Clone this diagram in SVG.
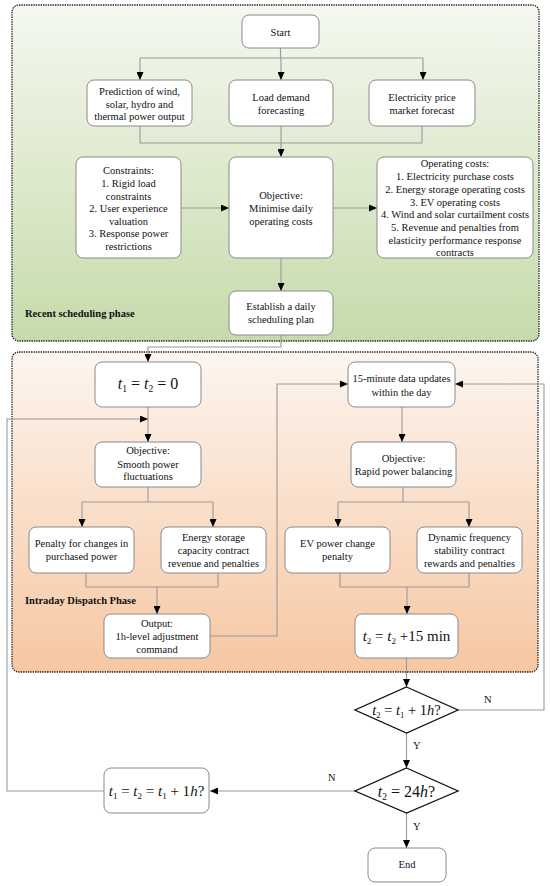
<svg xmlns="http://www.w3.org/2000/svg" width="550" height="886" viewBox="0 0 550 886">
<defs>
<linearGradient id="gGreen" x1="0" y1="0" x2="0" y2="1">
<stop offset="0" stop-color="#f5f8f0"/>
<stop offset="1" stop-color="#c6dbab"/>
</linearGradient>
<linearGradient id="gOrange" x1="0" y1="0" x2="0" y2="1">
<stop offset="0" stop-color="#fdf5ef"/>
<stop offset="1" stop-color="#f6c7a2"/>
</linearGradient>
<marker id="arr" markerUnits="userSpaceOnUse" markerWidth="8" markerHeight="7" refX="8" refY="3.5" orient="auto">
<path d="M0,0 L8,3.5 L0,7 z" fill="#000"/>
</marker>
<style>
.region{stroke:#222;stroke-width:1.3;stroke-dasharray:1.4 1;}
.box{fill:#fff;stroke:#8a8a8a;stroke-width:1;}
.dia{fill:#fff;stroke:#111;stroke-width:1.3;}
.c{fill:none;stroke:#9a9a9a;stroke-width:1.1;}
.ca{fill:none;stroke:#9a9a9a;stroke-width:1.1;marker-end:url(#arr);}
text{font-family:"Liberation Serif","Times New Roman",serif;fill:#111;}
.t{font-size:10.5px;text-anchor:middle;}
.lbl{font-size:10.5px;font-weight:bold;}
.m{text-anchor:middle;}
.yn{font-size:10.5px;}
</style>
</defs>

<g id="phase-recent">
<rect class="region" x="12" y="5" width="527" height="336" rx="7" fill="url(#gGreen)"/>
<text class="lbl" x="25" y="317">Recent scheduling phase</text>
</g>
<g id="phase-intraday">
<rect class="region" x="12" y="352" width="526" height="320" rx="7" fill="url(#gOrange)"/>
<text class="lbl" x="25" y="604">Intraday Dispatch Phase</text>
</g>

<g id="connectors">
<path class="c" d="M280.5,48 V58 M140,58 H423"/>
<path class="ca" d="M140,58 V80"/>
<path class="ca" d="M281,58 V80"/>
<path class="ca" d="M423,58 V80"/>
<path class="c" d="M140,126 V143 H422 M422,126 V143"/>
<path class="ca" d="M281,126 V157"/>
<path class="ca" d="M181,208 H229"/>
<path class="ca" d="M333,208 H377"/>
<path class="ca" d="M281,258 V291"/>
<path class="ca" d="M281,335 V347 H148 V362"/>
<path class="ca" d="M148,407 V442"/>
<path class="ca" d="M104,791 H7 V419 H148"/>
<path class="c" d="M148,487 V502 M82,502 H213"/>
<path class="ca" d="M82,502 V527"/>
<path class="ca" d="M213,502 V527"/>
<path class="c" d="M86,573 V587 H218 V573"/>
<path class="ca" d="M157,587 V614"/>
<path class="ca" d="M210,636 H277 V384 H348"/>
<path class="ca" d="M402,407 V442"/>
<path class="c" d="M403,487 V502 M338,502 H469"/>
<path class="ca" d="M338,502 V527"/>
<path class="ca" d="M469,502 V527"/>
<path class="c" d="M340,573 V587 H469 V573"/>
<path class="ca" d="M407,587 V614"/>
<path class="ca" d="M406.5,658 V687"/>
<path class="ca" d="M458,710 H544 V384 H455"/>
<path class="ca" d="M406.5,733 V768"/>
<path class="ca" d="M355,791 H210"/>
<path class="ca" d="M406.5,813 V848"/>
<text class="yn" x="484" y="703">N</text>
<text class="yn" x="413" y="749">Y</text>
<text class="yn" x="328" y="781">N</text>
<text class="yn" x="413" y="830">Y</text>
</g>

<g id="start">
<rect class="box" x="242" y="15" width="77" height="33" rx="7"/>
<text class="t" x="280.5" y="35.5">Start</text>
</g>
<g id="pred">
<rect class="box" x="87" y="80" width="105" height="46" rx="7"/>
<text class="t" x="139.5" y="95">Prediction of wind,</text>
<text class="t" x="139.5" y="107.5">solar, hydro and</text>
<text class="t" x="139.5" y="120">thermal power output</text>
</g>
<g id="load">
<rect class="box" x="229" y="80" width="104" height="46" rx="7"/>
<text class="t" x="281" y="101">Load demand</text>
<text class="t" x="281" y="114">forecasting</text>
</g>
<g id="price">
<rect class="box" x="369" y="80" width="106" height="46" rx="7"/>
<text class="t" x="422" y="101">Electricity price</text>
<text class="t" x="422" y="114">market forecast</text>
</g>
<g id="constraints">
<rect class="box" x="76" y="157" width="105" height="101" rx="7"/>
<text class="t" x="128.5" y="174">Constraints:</text>
<text class="t" x="128.5" y="187">1. Rigid load</text>
<text class="t" x="128.5" y="199.5">constraints</text>
<text class="t" x="128.5" y="212">2. User experience</text>
<text class="t" x="128.5" y="224.5">valuation</text>
<text class="t" x="128.5" y="237">3. Response power</text>
<text class="t" x="128.5" y="250">restrictions</text>
</g>
<g id="objective1">
<rect class="box" x="229" y="157" width="104" height="101" rx="7"/>
<text class="t" x="281" y="199">Objective:</text>
<text class="t" x="281" y="212">Minimise daily</text>
<text class="t" x="281" y="224.5">operating costs</text>
</g>
<g id="opcosts">
<rect class="box" x="377" y="157" width="156" height="101" rx="7"/>
<text class="t" x="455" y="167">Operating costs:</text>
<text class="t" x="455" y="180">1. Electricity purchase costs</text>
<text class="t" x="455" y="192.5">2. Energy storage operating costs</text>
<text class="t" x="455" y="205.5">3. EV operating costs</text>
<text class="t" x="455" y="218">4. Wind and solar curtailment costs</text>
<text class="t" x="455" y="231">5. Revenue and penalties from</text>
<text class="t" x="455" y="243.5">elasticity performance response</text>
<text class="t" x="455" y="256">contracts</text>
</g>
<g id="establish">
<rect class="box" x="229" y="291" width="104" height="44" rx="7"/>
<text class="t" x="281" y="310">Establish a daily</text>
<text class="t" x="281" y="323">scheduling plan</text>
</g>

<g id="init">
<rect class="box" x="95" y="362" width="106" height="45" rx="7"/>
<text class="m" x="148" y="389" font-size="16"><tspan font-style="italic">t</tspan><tspan font-size="9.5" dy="3">1</tspan><tspan dy="-3"> = </tspan><tspan font-style="italic">t</tspan><tspan font-size="9.5" dy="3">2</tspan><tspan dy="-3"> = 0</tspan></text>
</g>
<g id="smooth">
<rect class="box" x="95" y="442" width="106" height="45" rx="7"/>
<text class="t" x="148" y="454">Objective:</text>
<text class="t" x="148" y="467.5">Smooth power</text>
<text class="t" x="148" y="480">fluctuations</text>
</g>
<g id="penalty">
<rect class="box" x="29" y="527" width="105" height="46" rx="7"/>
<text class="t" x="81.5" y="547">Penalty for changes in</text>
<text class="t" x="81.5" y="560">purchased power</text>
</g>
<g id="storage">
<rect class="box" x="161" y="527" width="105" height="46" rx="7"/>
<text class="t" x="213.5" y="541">Energy storage</text>
<text class="t" x="213.5" y="554">capacity contract</text>
<text class="t" x="213.5" y="567">revenue and penalties</text>
</g>
<g id="output">
<rect class="box" x="104" y="614" width="106" height="44" rx="7"/>
<text class="t" x="157" y="627">Output:</text>
<text class="t" x="157" y="640">1h-level adjustment</text>
<text class="t" x="157" y="652.5">command</text>
</g>
<g id="update">
<rect class="box" x="348" y="362" width="107" height="45" rx="7"/>
<text class="t" x="401.5" y="382">15-minute data updates</text>
<text class="t" x="401.5" y="396">within the day</text>
</g>
<g id="rapid">
<rect class="box" x="351" y="442" width="105" height="45" rx="7"/>
<text class="t" x="403.5" y="462">Objective:</text>
<text class="t" x="403.5" y="475">Rapid power balancing</text>
</g>
<g id="ev">
<rect class="box" x="285" y="527" width="105" height="46" rx="7"/>
<text class="t" x="337.5" y="547">EV power change</text>
<text class="t" x="337.5" y="560">penalty</text>
</g>
<g id="dynamic">
<rect class="box" x="417" y="527" width="105" height="46" rx="7"/>
<text class="t" x="469.5" y="541">Dynamic frequency</text>
<text class="t" x="469.5" y="554">stability contract</text>
<text class="t" x="469.5" y="567">rewards and penalties</text>
</g>
<g id="t2step">
<rect class="box" x="355" y="614" width="103" height="44" rx="7"/>
<text class="m" x="406.5" y="641" font-size="15"><tspan font-style="italic">t</tspan><tspan font-size="9" dy="3">2</tspan><tspan dy="-3"> = </tspan><tspan font-style="italic">t</tspan><tspan font-size="9" dy="3">2</tspan><tspan dy="-3"> +15 min</tspan></text>
</g>
<g id="check1h">
<polygon class="dia" points="406.5,687 458,710 406.5,733 355,710"/>
<text class="m" x="406.5" y="715" font-size="14.5"><tspan font-style="italic">t</tspan><tspan font-size="8.7" dy="3">2</tspan><tspan dy="-3"> = </tspan><tspan font-style="italic">t</tspan><tspan font-size="8.7" dy="3">1</tspan><tspan dy="-3"> + 1</tspan><tspan font-style="italic">h</tspan><tspan>?</tspan></text>
</g>
<g id="check24h">
<polygon class="dia" points="406.5,768 458,791 406.5,813 355,791"/>
<text class="m" x="406.5" y="797" font-size="16"><tspan font-style="italic">t</tspan><tspan font-size="9.5" dy="3">2</tspan><tspan dy="-3"> = 24</tspan><tspan font-style="italic">h</tspan><tspan>?</tspan></text>
</g>
<g id="advance">
<rect class="box" x="104" y="768" width="105" height="45" rx="7"/>
<text class="m" x="156.5" y="796" font-size="15"><tspan font-style="italic">t</tspan><tspan font-size="9" dy="3">1</tspan><tspan dy="-3"> = </tspan><tspan font-style="italic">t</tspan><tspan font-size="9" dy="3">2</tspan><tspan dy="-3"> = </tspan><tspan font-style="italic">t</tspan><tspan font-size="9" dy="3">1</tspan><tspan dy="-3"> + 1</tspan><tspan font-style="italic">h</tspan><tspan>?</tspan></text>
</g>
<g id="end">
<rect class="box" x="368" y="848" width="78" height="34" rx="7"/>
<text class="t" x="407" y="868">End</text>
</g>
</svg>
